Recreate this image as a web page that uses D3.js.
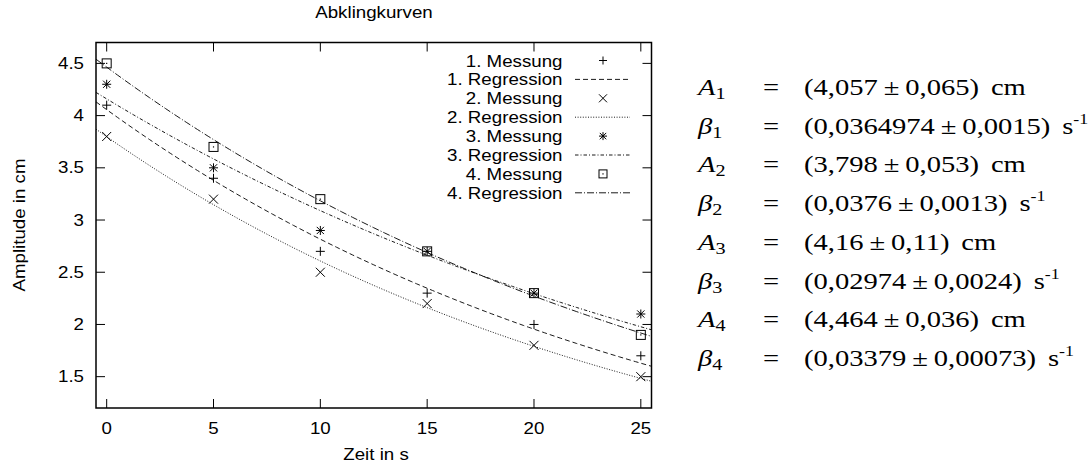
<!DOCTYPE html>
<html><head><meta charset="utf-8">
<script src="https://cdn.jsdelivr.net/npm/d3@7/dist/d3.min.js"></script>
<style>body{margin:0;background:#fff}svg{display:block}</style>
</head><body>
<svg id="chart" width="1088" height="465"></svg>
<script>
// ---- data ----
const times = [0, 5, 10, 15, 20, 25];
const messung1 = [4.1, 3.4, 2.7, 2.3, 2.0, 1.7];
const messung2 = [3.8, 3.2, 2.5, 2.2, 1.8, 1.5];
const messung3 = [4.3, 3.5, 2.9, 2.7, 2.3, 2.1];
const messung4 = [4.5, 3.7, 3.2, 2.7, 2.3, 1.9];
const fitA = [4.057, 3.798, 4.16, 4.464];
const fitBeta = [0.0364974, 0.0376, 0.02974, 0.03379];
const xTicks = [0, 5, 10, 15, 20, 25];
const yTicks = [1.5, 2, 2.5, 3, 3.5, 4, 4.5];
const legendLabels = ["1. Messung","1. Regression","2. Messung","2. Regression","3. Messung","3. Regression","4. Messung","4. Regression"];
const eqSymbols = ["A","β","A","β","A","β","A","β"];
const eqIndex = ["1","1","2","2","3","3","4","4"];
const eqLeft = ["(4,057","(0,0364974","(3,798","(0,0376","(4,16","(0,02974","(4,464","(0,03379"];
const eqRight = ["0,065)","0,0015)","0,053)","0,0013)","0,11)","0,0024)","0,036)","0,00073)"];
const eqUnits = ["cm","s","cm","s","cm","s","cm","s"];

const series = [messung1, messung2, messung3, messung4];

const svg = d3.select("#chart");
const L = 96, R = 651.5, T = 42.5, B = 408;
const x = d3.scaleLinear().domain([-0.5, 25.5]).range([L, R]);
const y = d3.scaleLinear().domain([1.2, 4.7]).range([B, T]);
const SX = 1.17;
const SXE = 1.19;
const SANS = "'Liberation Sans', Arial, Helvetica, sans-serif";
const SERIF = "'Liberation Serif', 'Times New Roman', serif";

function txt(g, px, py, s, size, anchor, family, rot, sx) {
  return g.append("text")
    .attr("transform", `translate(${px},${py})` + (rot ? ` rotate(${rot})` : "") + ` scale(${sx || SX},1)`)
    .attr("text-anchor", anchor || "start")
    .attr("font-family", family || SANS)
    .attr("font-size", size)
    .attr("fill", "#000")
    .text(s);
}

// ---- axes ticks (inward, mirrored) ----
const axG = svg.append("g");
const tl = 9;
xTicks.forEach(t => {
  axG.append("line").attr("x1", x(t)).attr("x2", x(t)).attr("y1", B).attr("y2", B - tl).attr("stroke", "#000");
  axG.append("line").attr("x1", x(t)).attr("x2", x(t)).attr("y1", T).attr("y2", T + tl).attr("stroke", "#000");
  txt(axG, x(t), 434, String(t), 16, "middle");
});
yTicks.forEach(t => {
  axG.append("line").attr("x1", L).attr("x2", L + tl).attr("y1", y(t)).attr("y2", y(t)).attr("stroke", "#000");
  axG.append("line").attr("x1", R).attr("x2", R - tl).attr("y1", y(t)).attr("y2", y(t)).attr("stroke", "#000");
  txt(axG, 84, y(t) + 5.5, String(t), 16, "end");
});

// ---- curves ----
const dashes = ["5,3", "1,1.6", "3.5,2,1,2", "7,2,1,2"];
svg.append("clipPath").attr("id", "clip").append("rect")
  .attr("x", L).attr("y", T).attr("width", R - L).attr("height", B - T);
const curveG = svg.append("g").attr("clip-path", "url(#clip)");
const sampleT = d3.range(-0.5, 25.51, 0.25);
const lineGen = d3.line().x(d => x(d[0])).y(d => y(d[1]));
fitA.forEach((A, i) => {
  const pts = sampleT.map(t => [t, A * Math.exp(-fitBeta[i] * t)]);
  curveG.append("path").attr("d", lineGen(pts)).attr("fill", "none")
    .attr("stroke", "#000").attr("stroke-width", 0.9).attr("stroke-dasharray", dashes[i]);
});

// ---- markers ----
function marker(g, cx, cy, type, s) {
  const ln = (x1, y1, x2, y2) => g.append("line").attr("x1", x1).attr("y1", y1).attr("x2", x2).attr("y2", y2)
    .attr("stroke", "#000").attr("stroke-width", 1);
  if (type === 0 || type === 2) { ln(cx - s, cy, cx + s, cy); ln(cx, cy - s, cx, cy + s); }
  if (type === 1 || type === 2) { const d = type === 2 ? s * 0.8 : s; ln(cx - d, cy - d, cx + d, cy + d); ln(cx - d, cy + d, cx + d, cy - d); }
  if (type === 3) {
    g.append("rect").attr("x", cx - s).attr("y", cy - s).attr("width", 2 * s).attr("height", 2 * s)
      .attr("fill", "none").attr("stroke", "#000").attr("stroke-width", 1);
    g.append("rect").attr("x", cx - 0.6).attr("y", cy - 0.6).attr("width", 1.2).attr("height", 1.2).attr("fill", "#000");
  }
}
const mG = svg.append("g");
series.forEach((vals, i) => {
  vals.forEach((v, j) => marker(mG, x(times[j]), y(v), i, 4.5));
});

// ---- frame ----
svg.append("rect").attr("x", L).attr("y", T).attr("width", R - L).attr("height", B - T)
  .attr("fill", "none").attr("stroke", "#000").attr("stroke-width", 1.5);

// ---- legend ----
const lg = svg.append("g");
legendLabels.forEach((lab, k) => {
  const cy = 60.5 + 18.9 * k;
  txt(lg, 562.5, cy + 6, lab, 16, "end");
  const si = Math.floor(k / 2);
  if (k % 2 === 0) {
    marker(lg, 603, cy, si, 4);
  } else {
    lg.append("line").attr("x1", 575).attr("x2", 630).attr("y1", cy).attr("y2", cy)
      .attr("stroke", "#000").attr("stroke-width", 0.9).attr("stroke-dasharray", dashes[si]);
  }
});

// ---- titles ----
txt(svg, 374, 18, "Abklingkurven", 16, "middle");
txt(svg, 376, 460, "Zeit in s", 16, "middle");
txt(svg, 25, 225, "Amplitude in cm", 16, "middle", SANS, -90);

// ---- equations ----
const eg = svg.append("g");
const FS = 24;
eqSymbols.forEach((sym, k) => {
  const by = 95 + 38.7 * k;
  const t1 = eg.append("text").attr("transform", `translate(698,${by}) scale(${SXE},1)`)
    .attr("font-family", SERIF).attr("font-size", FS);
  t1.append("tspan").attr("font-style", "italic").text(sym);
  t1.append("tspan").attr("font-size", 17).attr("dy", 4).text(eqIndex[k]);
  txt(eg, 771, by, "=", FS, "middle", SERIF, 0, SXE);
  const t2 = eg.append("text").attr("transform", `translate(804,${by}) scale(${SXE},1)`)
    .attr("font-family", SERIF).attr("font-size", FS);
  t2.append("tspan").text(eqLeft[k]);
  t2.append("tspan").attr("dx", 5).text("±");
  t2.append("tspan").attr("dx", 5).text(eqRight[k]);
  t2.append("tspan").attr("dx", 10).text(eqUnits[k]);
  if (eqUnits[k] === "s") t2.append("tspan").attr("font-size", 15).attr("dy", -10).text("-1");
});
</script>
</body></html>
